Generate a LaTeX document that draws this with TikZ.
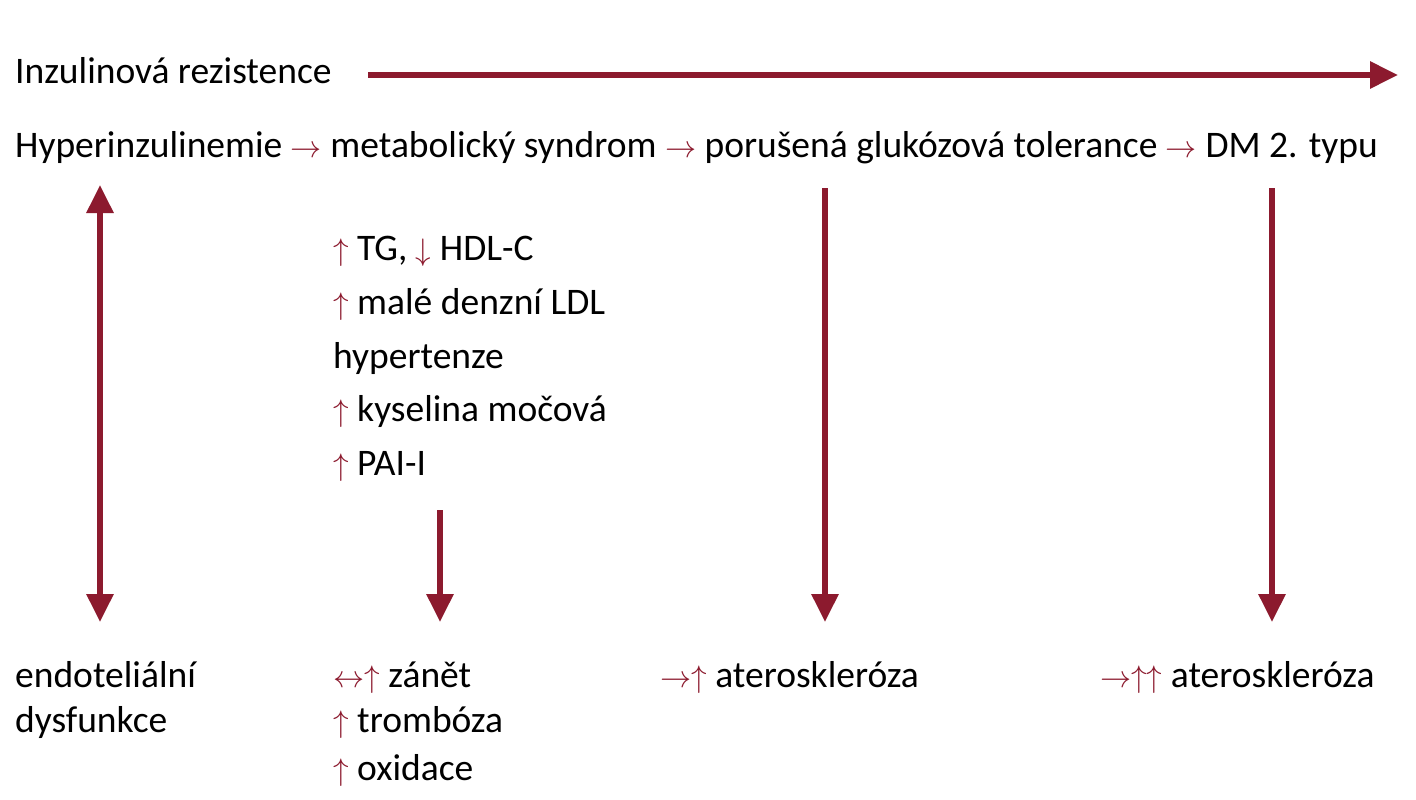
\documentclass[tikz,border=0pt]{standalone}
\usetikzlibrary{arrows.meta}
\usepackage{fontspec}
\setmainfont{Carlito}
\definecolor{dr}{HTML}{8C1A2E}
\newcommand{\ra}{\textcolor{dr}{\scalebox{1.25}{$\rightarrow$}}}
\newcommand{\ua}{\textcolor{dr}{\scalebox{1.25}{$\uparrow$}}}
\newcommand{\da}{\textcolor{dr}{\scalebox{1.25}{$\downarrow$}}}
\newcommand{\lra}{\textcolor{dr}{\scalebox{1.25}{$\leftrightarrow$}}}
\begin{document}
\begin{tikzpicture}[x=1pt,y=-1pt,
  t/.style={anchor=base west,inner sep=0pt,font=\fontsize{37.5}{37.5}\selectfont},
  big/.style={draw=dr,line width=6pt,-{Triangle[length=28pt,width=26pt]}}]
\useasboundingbox (0,0) rectangle (1416,800);
\fill[white] (0,0) rectangle (1416,800);
\node[t] (ir) at (15,84) {Inzulinová rezistence};
\coordinate (irs) at (368,75); \coordinate (ire) at (1398,75);
\draw[big] (irs) -- (ire);
\node[t] (row) at (15,157) {Hyperinzulinemie \ra{} metabolický syndrom \ra{} porušená glukózová tolerance \ra{} DM 2. typu};
\node[t] (l1) at (333,260) {\ua{} TG, \da{} HDL-C};
\node[t] (l2) at (333,314) {\ua{} malé denzní LDL};
\node[t] (l3) at (333,368) {hypertenze};
\node[t] (l4) at (333,421) {\ua{} kyselina močová};
\node[t] (l5) at (333,475) {\ua{} PAI-I};
\node[t] (b1) at (15,687) {endoteliální};
\node[t] (b1b) at (15,732) {dysfunkce};
\node[t] (b2) at (333,687) {\lra\ua{} zánět};
\node[t] (b2b) at (333,732) {\ua{} trombóza};
\node[t] (b2c) at (333,780) {\ua{} oxidace};
\node[t] (b3) at (660,687) {\ra\ua{} ateroskleróza};
\node[t] (b4) at (1100,687) {\ra\ua\ua{} ateroskleróza};
\coordinate (a1s) at (100,185); \coordinate (a1e) at (100,622);
\draw[big,{Triangle[length=28pt,width=26pt]}-{Triangle[length=28pt,width=26pt]}] (a1s) -- (a1e);
\coordinate (a2s) at (440,510); \coordinate (a2e) at (440,622);
\draw[big] (a2s) -- (a2e);
\coordinate (a3s) at (825,188); \coordinate (a3e) at (825,622);
\draw[big] (a3s) -- (a3e);
\coordinate (a4s) at (1272,188); \coordinate (a4e) at (1272,622);
\draw[big] (a4s) -- (a4e);
\end{tikzpicture}
\end{document}
